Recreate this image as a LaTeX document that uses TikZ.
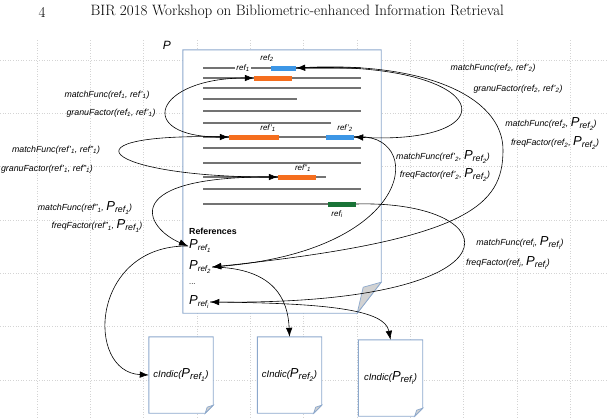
\documentclass[tikz,border=0pt]{standalone}
\usepackage{fontspec}
\setsansfont{Liberation Sans}
\usetikzlibrary{arrows.meta,positioning,backgrounds}
\definecolor{docblue}{RGB}{140,168,204}
\definecolor{refor}{RGB}{245,110,30}
\definecolor{refbl}{RGB}{60,150,230}
\definecolor{refgr}{RGB}{25,115,55}
\definecolor{gridgray}{RGB}{212,212,212}
\newcommand{\rf}[2]{ref#1\textsubscript{#2}}
\newcommand{\pref}[1]{{\fontsize{13}{13}\selectfont P}\raisebox{-2pt}{ref\textsubscript{#1}}}
\tikzset{
	paper/.style={draw=docblue, fill=white, line width=0.9pt},
	fold/.style={draw=docblue, fill=gray!35, line width=0.7pt},
	txtline/.style={draw=gray!90!black, line width=1.2pt},
	bar/.style={minimum height=5pt, inner sep=0pt},
	lbl/.style={font=\sffamily\itshape\fontsize{8.8}{10}\selectfont, inner sep=1pt},
	tag/.style={font=\sffamily\itshape\fontsize{8}{9}\selectfont, inner sep=1pt},
	entry/.style={font=\sffamily\itshape\fontsize{8}{9}\selectfont, anchor=west, inner sep=1pt},
	cbox/.style={minimum width=64pt, minimum height=76pt, inner sep=0pt, font=\sffamily\itshape\fontsize{9.5}{10}\selectfont},
	link/.style={-{Latex[length=9pt,width=6.5pt]}, line width=0.6pt},
	twoway/.style={{Latex[length=9pt,width=6.5pt]}-{Latex[length=9pt,width=6.5pt]}, line width=0.6pt}
}
\begin{document}
\begin{tikzpicture}[x=1pt, y=-1pt]
	\useasboundingbox (0,0) rectangle (608,418);
	% running head
	\node[font=\fontsize{15}{17}\selectfont] (pnum) at (42,12) {4};
	\node[font=\fontsize{15}{17}\selectfont, anchor=west] (runhead) at (87,12) {BIR 2018 Workshop on Bibliometric-enhanced Information Retrieval};
	% paper P and the three citing pages
	\node[minimum width=198pt, minimum height=263pt, inner sep=0pt] (docP) at (282,181.5) {};
	\node[font=\sffamily\itshape\fontsize{12}{12}\selectfont] (plabel) at (167,45) {P};
	\node[cbox] (c1) at (181,375) {cIndic(\pref{1})};
	\node[cbox] (c2) at (289.5,375) {cIndic(\pref{2})};
	\node[cbox] (c3) at (390.5,378) {cIndic(\pref{i})};
	\begin{scope}[on background layer]
		\foreach \k in {0,...,10}
			\draw[gridgray, dotted, line width=0.6pt] (37+53.33*\k,40) -- (37+53.33*\k,418);
		\foreach \k in {0,...,6}
			\draw[gridgray, dotted, line width=0.6pt] (0,60+53.33*\k) -- (608,60+53.33*\k);
		\draw[paper] (docP.north west) -- (docP.north east) -- ([yshift=31pt]docP.south east) -- ([xshift=-24pt]docP.south east) -- (docP.south west) -- cycle;
		\draw[fold] ([yshift=31pt]docP.south east) -- ([xshift=-18pt,yshift=26pt]docP.south east) -- ([xshift=-24pt]docP.south east) -- cycle;
		\foreach \c in {c1,c2,c3} {
			\draw[paper] (\c.north west) -- (\c.north east) -- ([yshift=8pt]\c.south east) -- ([xshift=-8pt]\c.south east) -- (\c.south west) -- cycle;
			\draw[fold] ([yshift=8pt]\c.south east) -- ([xshift=-6pt,yshift=6pt]\c.south east) -- ([xshift=-8pt]\c.south east) -- cycle;
		}
	\end{scope}
	% text lines of P
	\draw[txtline] (203,68) -- (361,68);
	\foreach \y/\xe in {78/361,88/361,99/297,111/361,123/331,137/361,148/361,163/361,177/326,189/361,204/356}
		\draw[txtline] (203,\y) -- (\xe,\y);
	% citation markers
	\node[bar, fill=refbl, minimum width=25pt] (b2) at (283.5,68) {};
	\node[bar, fill=refor, minimum width=38pt] (b1) at (273,78) {};
	\node[bar, fill=refor, minimum width=50pt] (b1p) at (254,137) {};
	\node[bar, fill=refbl, minimum width=28pt] (b2p) at (340,137) {};
	\node[bar, fill=refor, minimum width=38pt] (b1pp) at (297,177) {};
	\node[bar, fill=refgr, minimum width=28pt] (bi) at (342,204) {};
	\node[tag, fill=white] (t1) at (243,68) {\rf{}{1}};
	\node[tag] (t2) at (267,58) {\rf{}{2}};
	\node[tag] (t1p) at (268,128) {\rf{'}{1}};
	\node[tag] (t2p) at (345,128) {\rf{'}{2}};
	\node[tag] (t1pp) at (303,168) {\rf{''}{1}};
	\node[tag] (ti) at (337,214) {\rf{}{i}};
	% reference list
	\node[font=\sffamily\bfseries\fontsize{8.8}{10}\selectfont, anchor=west, inner sep=1pt] (refs) at (188,231) {References};
	\node[entry] (p1) at (188,246) {\pref{1}};
	\node[entry] (p2) at (188,267) {\pref{2}};
	\node[entry, font=\sffamily\fontsize{7.5}{8}\selectfont] (pdots) at (188,284) {...};
	\node[entry] (pi) at (188,302) {\pref{i}};
	% labels
	\node[lbl] (m11p) at (107,95) {matchFunc(\rf{}{1}, \rf{'}{1})};
	\node[lbl] (g11p) at (111,113) {granuFactor(\rf{}{1}, \rf{'}{1})};
	\node[lbl] (m1p1pp) at (56,150) {matchFunc(\rf{'}{1}, \rf{''}{1})};
	\node[lbl] (g1p1pp) at (47,169) {granuFactor(\rf{'}{1}, \rf{''}{1})};
	\node[lbl] (m1ppP) at (85,208) {matchFunc(\rf{''}{1}, \pref{1})};
	\node[lbl] (f1ppP) at (97,226) {freqFactor(\rf{''}{1}, \pref{1})};
	\node[lbl] (m22p) at (493,68) {matchFunc(\rf{}{2}, \rf{'}{2})};
	\node[lbl] (g22p) at (518,89) {granuFactor(\rf{}{2}, \rf{'}{2})};
	\node[lbl] (m2P) at (551,124) {matchFunc(\rf{}{2}, \pref{2})};
	\node[lbl] (f2P) at (555,143) {freqFactor(\rf{}{2}, \pref{2})};
	\node[lbl] (m2pP) at (443,157) {matchFunc(\rf{'}{2}, \pref{2})};
	\node[lbl] (f2pP) at (445,175) {freqFactor(\rf{'}{2}, \pref{2})};
	\node[lbl] (miP) at (520,243) {matchFunc(\rf{}{i}, \pref{i})};
	\node[lbl] (fiP) at (508,263) {freqFactor(\rf{}{i}, \pref{i})};
	% connectors
	\coordinate (bend2) at (503,150);
	\draw[twoway] (b1.west) .. controls +(-100,0) and +(-95,0) .. (b1p.west);
	\draw[link] (b1p.west) .. controls +(-175,-5) and +(-175,0) .. (b1pp.west);
	\draw[link] (b1pp.west) .. controls (115,175) and (145,228) .. (p1.west);
	\draw[link] (p1.west) .. controls (90,245) and (85,372) .. (c1.west);
	\draw[twoway] (b2.east) .. controls (495,62) and (510,145) .. (b2p.east);
	\draw[link] (b2.east) .. controls (420,60) and (503,95) .. (bend2) .. controls (503,205) and (470,240) .. (p2.east);
	\draw[link] (b2p.east) .. controls (425,130) and (420,250) .. (p2.east);
	\draw[link] (bi.east) .. controls (510,200) and (530,305) .. (pi.east);
	\draw[link] (p2.east) .. controls (275,268) and (288,300) .. (c2.north);
	\draw[link] (pi.east) .. controls (330,303) and (385,310) .. (c3.north);
\end{tikzpicture}
\end{document}
